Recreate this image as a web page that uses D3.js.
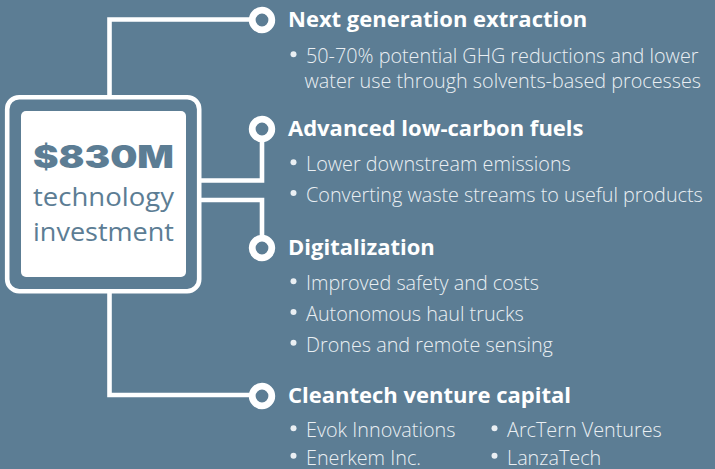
<!DOCTYPE html>
<html>
<head>
<meta charset="utf-8">
<script src="https://cdn.jsdelivr.net/npm/d3@7"></script>
<style>
  html, body { margin: 0; padding: 0; background: #5c7d94; }
  svg { display: block; }
</style>
</head>
<body>
<svg id="chart" width="715" height="469"></svg>
<script>
// ---- content ----
const headline = "$830M";
const subLines = ["technology", "investment"];
const categories = [
  "Next generation extraction",
  "Advanced low-carbon fuels",
  "Digitalization",
  "Cleantech venture capital"
];
const bullets1 = ["50-70% potential GHG reductions and lower", "water use through solvents-based processes"];
const bullets2 = ["Lower downstream emissions", "Converting waste streams to useful products"];
const bullets3 = ["Improved safety and costs", "Autonomous haul trucks", "Drones and remote sensing"];
const bullets4 = ["Evok Innovations", "ArcTern Ventures", "Enerkem Inc.", "LanzaTech"];

// ---- layout ----
const W = 715, H = 469;
const BG = "#5c7d94";
const svg = d3.select("#chart");
svg.append("rect").attr("width", W).attr("height", H).attr("fill", BG);

const titleY = d3.scaleOrdinal().domain(categories).range([27, 136, 255, 403]);
const circleX = 262;
const textX = 288;
const bulletTextX = 306;
const lineW = 4.6;

// connectors
const boxL = 7.2, boxT = 97.2, boxR = 199.2, boxB = 291.2;
const stemX = 109.5;
const conn = [
  [[stemX, boxT], [stemX, titleY(categories[0]) - 7.5], [circleX, titleY(categories[0]) - 7.5]],
  [[boxR, 180.5], [circleX, 180.5], [circleX, titleY(categories[1]) - 6]],
  [[boxR, 200], [circleX, 200], [circleX, titleY(categories[2]) - 7]],
  [[stemX, boxB], [stemX, titleY(categories[3]) - 8], [circleX, titleY(categories[3]) - 8]]
];
const lineGen = d3.line();
svg.selectAll("path.conn").data(conn).join("path")
  .attr("class", "conn")
  .attr("d", lineGen)
  .attr("fill", "none")
  .attr("stroke", "#fff")
  .attr("stroke-width", lineW)
  .attr("stroke-linejoin", "miter")
  .attr("stroke-linecap", "butt");

svg.selectAll("circle.node").data(categories).join("circle")
  .attr("class", "node")
  .attr("cx", circleX)
  .attr("cy", d => titleY(d) - 7)
  .attr("r", 9.8)
  .attr("fill", BG)
  .attr("stroke", "#fff")
  .attr("stroke-width", 6.8);

// central box
svg.append("rect")
  .attr("x", boxL).attr("y", boxT)
  .attr("width", boxR - boxL).attr("height", boxB - boxT)
  .attr("rx", 12).attr("ry", 12)
  .attr("fill", BG).attr("stroke", "#fff").attr("stroke-width", lineW);
svg.append("rect")
  .attr("x", 21).attr("y", 111).attr("width", 165).attr("height", 166)
  .attr("rx", 5).attr("fill", "#fff");

const cx = 103.5;
svg.append("text")
  .attr("x", cx).attr("y", 167.5)
  .attr("text-anchor", "middle")
  .attr("font-family", "Inter, 'DejaVu Sans', sans-serif")
  .attr("font-weight", 900)
  .attr("font-size", 31)
  .attr("textLength", 141).attr("lengthAdjust", "spacingAndGlyphs")
  .attr("fill", BG)
  .text(headline);
svg.selectAll("text.sub").data(subLines).join("text")
  .attr("class", "sub")
  .attr("x", cx)
  .attr("y", (d, i) => 206 + i * 34.5)
  .attr("text-anchor", "middle")
  .attr("font-family", "'Open Sans', sans-serif")
  .attr("font-weight", 400)
  .attr("font-size", 25.5)
  .attr("textLength", 141).attr("lengthAdjust", "spacingAndGlyphs")
  .attr("fill", BG)
  .text(d => d);

// titles
svg.selectAll("text.title").data(categories).join("text")
  .attr("class", "title")
  .attr("x", textX)
  .attr("y", d => titleY(d))
  .attr("font-family", "'Open Sans', sans-serif")
  .attr("font-weight", 700)
  .attr("font-size", 22)
  .attr("fill", "#fff")
  .text(d => d);

// bullets
const bulletColor = "#eaeff3";
function addLine(x, y, str, dot) {
  if (dot) {
    svg.append("circle").attr("cx", x - 12.5).attr("cy", y - 8.8).attr("r", 3).attr("fill", bulletColor);
  }
  svg.append("text")
    .attr("x", x).attr("y", y)
    .attr("font-family", "'Open Sans', sans-serif")
    .attr("font-weight", 300)
    .attr("font-size", 19.8)
    .attr("fill", bulletColor)
    .text(str);
}
// section 1 (wrapped bullet)
addLine(bulletTextX, 63, bullets1[0], true);
addLine(bulletTextX - 1.5, 88, bullets1[1], false);
// section 2
bullets2.forEach((b, i) => addLine(bulletTextX, 171 + i * 30.7, b, true));
// section 3
bullets3.forEach((b, i) => addLine(bulletTextX, 290 + i * 30.8, b, true));
// section 4 (two columns)
bullets4.forEach((b, i) => addLine(i % 2 === 0 ? bulletTextX : 507, 437 + Math.floor(i / 2) * 27.5, b, true));
</script>
</body>
</html>
